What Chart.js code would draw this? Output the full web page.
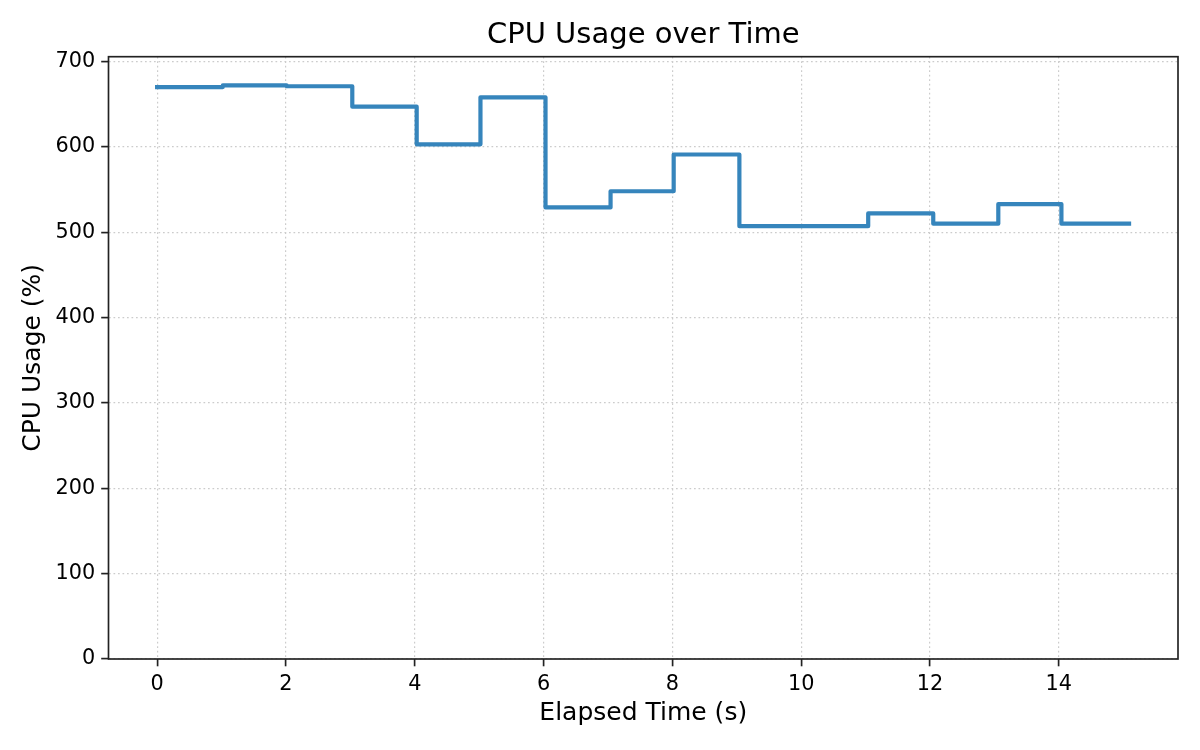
<!DOCTYPE html>
<html>
<head>
<meta charset="utf-8">
<script src="https://cdn.jsdelivr.net/npm/chart.js@4"></script>
<style>
  html, body { margin: 0; padding: 0; background: #fff; }
  #wrap { width: 1200px; height: 750px; }
</style>
</head>
<body>
<div id="wrap"><canvas id="cpuChart" width="1200" height="750"></canvas></div>
<script>
// elapsed time (s) at each sample
const elapsed = [0, 1.02, 2.01, 3.03, 4.03, 5.02, 6.03, 7.04, 8.02, 9.04, 10.04, 11.04, 12.05, 13.06, 14.04, 15.09];
// CPU usage (%) held from each sample until the next one
const cpuUsage = [670, 672, 671, 647, 603, 658, 529, 548, 591, 507, 507, 522, 510, 533, 510, 510];

const xTicks = [0, 2, 4, 6, 8, 10, 12, 14];
const yTicks = [0, 100, 200, 300, 400, 500, 600, 700];

Chart.defaults.font.family = '"DejaVu Sans", sans-serif';
Chart.defaults.color = '#000';

// matplotlib-style box round the plot area
const frame = {
  id: 'frame',
  afterDatasetsDraw(chart) {
    const { ctx, chartArea: a } = chart;
    ctx.save();
    ctx.strokeStyle = '#222';
    ctx.lineWidth = 1.67;
    ctx.strokeRect(a.left, a.top, a.right - a.left, a.bottom - a.top);
    ctx.restore();
  }
};

const points = elapsed.map((t, i) => ({ x: t, y: cpuUsage[i] }));

const gridStyle = {
  color: '#cccccc',
  lineWidth: 1.2,
  tickLength: 7.3,
  tickColor: '#222',
  tickWidth: 1.67,
  tickBorderDash: [],
};

const ctx = document.getElementById('cpuChart').getContext('2d');

const chart = new Chart(ctx, {
  type: 'line',
  data: {
    datasets: [
      {
        label: 'CPU Usage',
        data: points,
        stepped: 'before',
        borderColor: '#3685bc',
        borderWidth: 4.2,
        borderCapStyle: 'square',
        borderJoinStyle: 'round',
        pointRadius: 0,
        fill: false,
      },
    ],
  },
  options: {
    responsive: false,
    animation: false,
    devicePixelRatio: 1,
    layout: { padding: { left: 0, right: 22, top: 0, bottom: 0 } },
    plugins: {
      legend: { display: false },
      tooltip: { enabled: false },
      title: {
        display: true,
        fullSize: false,
        text: 'CPU Usage over Time',
        font: { size: 29, weight: 'normal' },
        color: '#000',
        padding: { top: 18.4, bottom: 3.5 },
      },
    },
    scales: {
      x: {
        type: 'linear',
        min: -0.755,
        max: 15.85,
        afterFit(scale) { scale.height = 91; },
        afterBuildTicks(scale) { scale.ticks = xTicks.map(v => ({ value: v })); },
        ticks: {
          padding: 6,
          font: { size: 20.8 },
          maxRotation: 0,
          autoSkip: false,
        },
        grid: gridStyle,
        border: { display: false, dash: [1.7, 2.8] },
        title: {
          display: true,
          text: 'Elapsed Time (s)',
          font: { size: 25 },
          padding: { top: 0, bottom: 22 },
        },
      },
      y: {
        type: 'linear',
        min: 0,
        max: 705.6,
        afterFit(scale) { scale.width = 108.5; },
        afterBuildTicks(scale) { scale.ticks = yTicks.map(v => ({ value: v })); },
        ticks: {
          padding: 6,
          font: { size: 20.8 },
          autoSkip: false,
        },
        grid: gridStyle,
        border: { display: false, dash: [1.7, 2.8] },
        title: {
          display: true,
          text: 'CPU Usage (%)',
          font: { size: 25 },
          padding: { top: 18, bottom: 0 },
        },
      },
    },
  },
  plugins: [frame],
});
</script>
</body>
</html>
